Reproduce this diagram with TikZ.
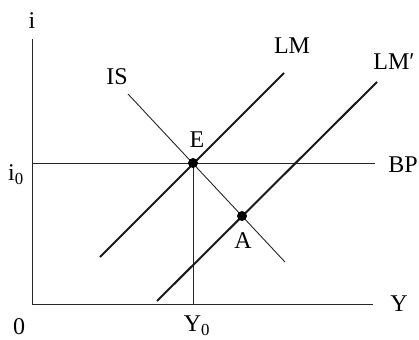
\documentclass[tikz,border=0pt]{standalone}
\usepackage{fontspec}
\setmainfont{Liberation Serif}
\begin{document}
\begin{tikzpicture}[x=1pt,y=-1pt,
  lbl/.style={inner sep=0pt, font=\fontsize{24}{28}\selectfont},
  axisline/.style={line width=1pt, black!85},
  thinline/.style={line width=0.9pt, black!85},
  thickline/.style={line width=2pt, black!90},
  dotmark/.style={circle, fill=black, inner sep=0pt, minimum size=10pt}]
\useasboundingbox (0,0) rectangle (419,339);
% axes
\coordinate (O) at (32,304);
\coordinate (ytop) at (32,39);
\coordinate (xend) at (373,304);
\draw[axisline] (ytop) -- (O) -- (xend);
% BP line
\coordinate (bpL) at (32,163);
\coordinate (bpR) at (375,163);
\draw[thinline] (bpL) -- (bpR);
% curve end points
\coordinate (isA) at (128,94);
\coordinate (isB) at (285,262);
\coordinate (lmA) at (100,257);
\coordinate (lmB) at (284,73);
\coordinate (lmpA) at (157,301);
\coordinate (lmpB) at (377,82);
\coordinate (Ypt) at (193,304);
\coordinate (Ept) at (193,163);
\coordinate (Apt) at (242,216);
% lines
\draw[thinline] (isA) -- (isB);
\draw[thinline] (Ept) -- (Ypt);
\draw[thickline] (lmA) -- (lmB);
\draw[thickline] (lmpA) -- (lmpB);
% points
\node[dotmark] (E) at (Ept) {};
\node[dotmark] (A) at (Apt) {};
% labels
\node[lbl] (li) at (32,21) {i};
\node[lbl] (lzero) at (19,327) {0};
\node[lbl] (lY) at (399,304) {Y};
\node[lbl] (lY0) at (197,326) {Y\textsubscript{0}};
\node[lbl] (li0) at (16,175) {i\textsubscript{0}};
\node[lbl] (lBP) at (403,165) {BP};
\node[lbl] (lIS) at (117,77) {IS};
\node[lbl] (lLM) at (292,46) {LM};
\node[lbl] (lLMp) at (394,62) {LM\char"2032};
\node[lbl] (lE) at (197,140) {E};
\node[lbl] (lA) at (243,241) {A};
\end{tikzpicture}
\end{document}
